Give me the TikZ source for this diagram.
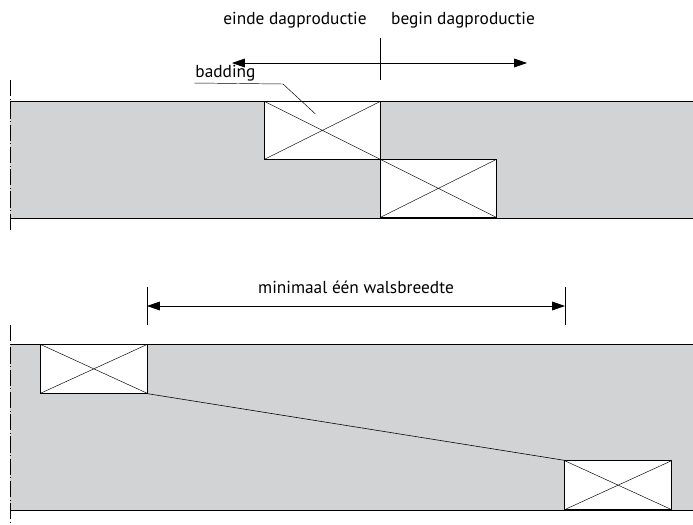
\documentclass[tikz,border=0pt]{standalone}
\usepackage{fontspec}
\setmainfont{PT Sans}
\usetikzlibrary{arrows.meta, positioning, calc}
\definecolor{stripgray}{RGB}{209, 211, 212}

\begin{document}
\begin{tikzpicture}[x=0.03cm, y=-0.03cm,
        strip/.style={fill=stripgray, draw=none},
        edge/.style={line width=0.6pt},
        axisline/.style={line width=0.5pt, dash pattern=on 14pt off 2pt on 1pt off 2pt},
        badbox/.style={draw, fill=white, line width=0.6pt, inner sep=0pt,
          path picture={\draw[line width=0.4pt] (path picture bounding box.north west) -- (path picture bounding box.south east)
            (path picture bounding box.south west) -- (path picture bounding box.north east);}},
        bigbox/.style={badbox, minimum width=3.48cm, minimum height=1.74cm},
        smallbox/.style={badbox, minimum width=3.21cm, minimum height=1.47cm},
        lbl/.style={font=\fontsize{14.8}{16}\selectfont, inner sep=1pt},
        arr/.style={{Triangle[length=11pt,width=7.5pt]}-{Triangle[length=11pt,width=7.5pt]}, line width=0.6pt}
      ]
        \useasboundingbox (0,0) rectangle (693,524);

        % bovenste situatie: dagnaad
        \fill[strip] (10,101) rectangle (693,218);
        \draw[edge] (10,101) -- (693,101) (10,218) -- (693,218);
        \draw[axisline] (10,80) -- (10,232);
        \node[bigbox, anchor=north west] (bad1) at (264,101) {};
        \node[bigbox, anchor=north west] (bad2) at (380,159) {};

        \coordinate (mid) at (380,38);
        \coordinate (midlow) at (380,80);
        \draw[line width=0.5pt] (mid) -- (midlow);
        \coordinate (left) at (232,63);
        \coordinate (right) at (527,63);
        \draw[arr] (left) -- (right);
        \node[lbl] (einde) at (295,20) {einde dagproductie};
        \node[lbl] (begin) at (463,20) {begin dagproductie};

        \node[lbl, anchor=south west] (badding) at (194,83) {badding};
        \coordinate (knik) at (283,84);
        \draw[line width=0.4pt] (badding.south west) -- (knik) -- ($(bad1.north west)!0.44!(bad1.east)$);

        % onderste situatie: verspringende naden
        \fill[strip] (10,344) rectangle (693,510);
        \draw[edge] (10,344) -- (693,344) (10,510) -- (693,510);
        \draw[axisline] (10,325) -- (10,522);
        \node[smallbox, anchor=north west] (bad3) at (40,344) {};
        \node[smallbox, anchor=south east] (bad4) at (672,510) {};
        \draw[line width=0.5pt] (bad3.south east) -- (bad4.north west);

        \coordinate (maat1) at (147,287);
        \coordinate (maat1b) at (147,325);
        \coordinate (maat2) at (565,287);
        \coordinate (maat2b) at (565,325);
        \coordinate (pijl1) at (147,306);
        \coordinate (pijl2) at (565,306);
        \draw[line width=0.5pt] (maat1) -- (maat1b) (maat2) -- (maat2b);
        \draw[arr] (pijl1) -- (pijl2);
        \node[lbl] (wals) at (356,287) {minimaal één walsbreedte};
      \end{tikzpicture}
\end{document}
